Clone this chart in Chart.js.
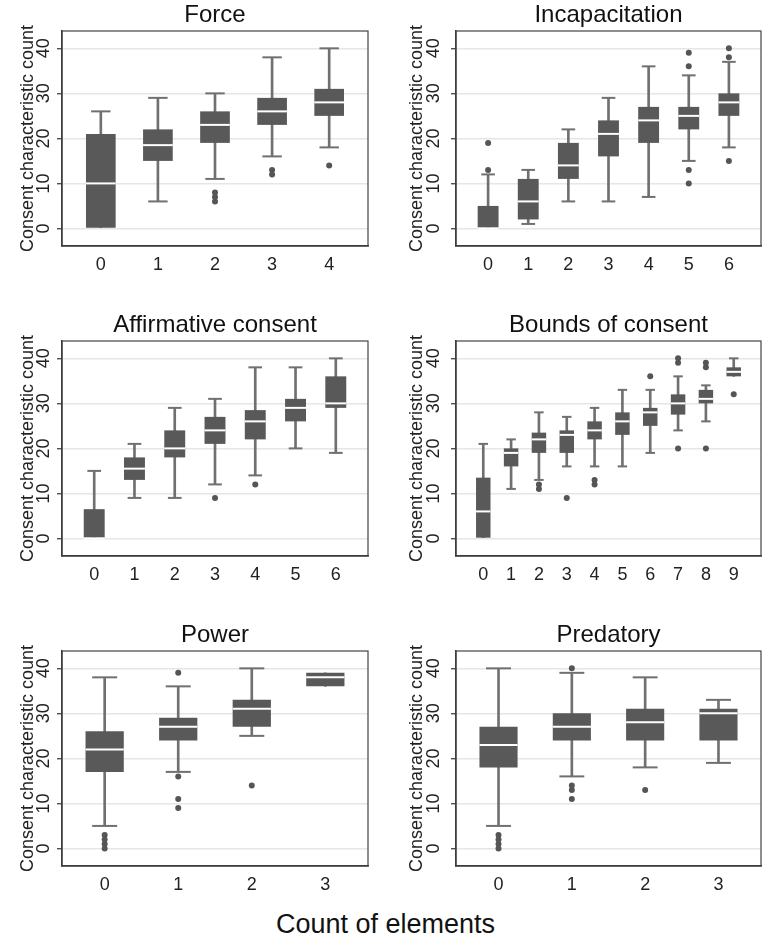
<!DOCTYPE html>
<html>
<head>
<meta charset="utf-8">
<script src="https://cdn.jsdelivr.net/npm/chart.js@4.4.1/dist/chart.umd.min.js"></script>
<style>
  body { margin: 0; background: #fff; width: 765px; height: 944px; position: relative; overflow: hidden; }
  canvas { position: absolute; }
  #xtitle { position: absolute; left: 3px; width: 765px; top: 908px; text-align: center;
            font: 27px 'Liberation Sans', Arial, sans-serif; color: #111; line-height: 32px; }
</style>
</head>
<body>
<canvas id="force" width="382" height="276" style="left:0;top:0"></canvas>
<canvas id="incap" width="382" height="276" style="left:383px;top:0"></canvas>
<canvas id="affirm" width="382" height="276" style="left:0;top:310px"></canvas>
<canvas id="bounds" width="382" height="276" style="left:383px;top:310px"></canvas>
<canvas id="power" width="382" height="276" style="left:0;top:620px"></canvas>
<canvas id="pred" width="382" height="276" style="left:383px;top:620px"></canvas>
<div id="xtitle">Count of elements</div>
<script>
const yTicks = [0, 10, 20, 30, 40];

// Force
const forceCats = [0, 1, 2, 3, 4];
const forceLow  = [0, 6, 11, 16, 18];
const forceQ1   = [0, 15, 19, 23, 25];
const forceMed  = [10, 18.5, 23, 26, 28];
const forceQ3   = [21, 22, 26, 29, 31];
const forceHigh = [26, 29, 30, 38, 40];
const forceOut  = [[], [], [8, 7, 6], [13, 12], [14]];

// Incapacitation
const incapCats = [0, 1, 2, 3, 4, 5, 6];
const incapLow  = [0, 1, 6, 6, 7, 15, 18];
const incapQ1   = [0, 2, 11, 16, 19, 22, 25];
const incapMed  = [0, 6, 14, 21, 24, 25, 28];
const incapQ3   = [5, 11, 19, 24, 27, 27, 30];
const incapHigh = [12, 13, 22, 29, 36, 34, 37];
const incapOut  = [[13, 19], [], [], [], [], [13, 10, 36, 39], [15, 38, 40]];

// Affirmative consent
const affCats = [0, 1, 2, 3, 4, 5, 6];
const affLow  = [0, 9, 9, 12, 14, 20, 19];
const affQ1   = [0, 13, 18, 21, 22, 26, 29];
const affMed  = [0, 15.5, 20, 24, 26, 29, 30];
const affQ3   = [6.5, 18, 24, 27, 28.5, 31, 36];
const affHigh = [15, 21, 29, 31, 38, 38, 40];
const affOut  = [[], [], [], [9], [12], [], []];

// Bounds of consent
const bndCats = [0, 1, 2, 3, 4, 5, 6, 7, 8, 9];
const bndLow  = [0, 11, 13, 16, 16, 16, 19, 24, 26, 36];
const bndQ1   = [0, 16, 19, 19, 22, 23, 25, 27.5, 30, 36];
const bndMed  = [6, 19, 22, 23, 24, 26, 28, 30, 31, 37];
const bndQ3   = [13.5, 20, 23.5, 24, 26, 28, 29, 32, 33, 38];
const bndHigh = [21, 22, 28, 27, 29, 33, 33, 36, 34, 40];
const bndOut  = [[], [], [12, 11], [9], [13, 12], [], [36], [20, 39, 40], [20, 38, 39], [32]];

// Power
const powCats = [0, 1, 2, 3];
const powLow  = [5, 17, 25, 36];
const powQ1   = [17, 24, 27, 36];
const powMed  = [22, 27, 31, 38];
const powQ3   = [26, 29, 33, 39];
const powHigh = [38, 36, 40, 39];
const powOut  = [[3, 2, 1, 0], [16, 11, 9, 39], [14], []];

// Predatory
const predCats = [0, 1, 2, 3];
const predLow  = [5, 16, 18, 19];
const predQ1   = [18, 24, 24, 24];
const predMed  = [23, 27, 28, 30];
const predQ3   = [27, 30, 31, 31];
const predHigh = [40, 39, 38, 33];
const predOut  = [[3, 2, 1, 0], [14, 13, 11, 40], [13], []];

Chart.defaults.font.family = "'Liberation Sans', Arial, sans-serif";
Chart.defaults.color = '#222';

const BOX = '#595959';
const WHISK = '#707070';

// column layouts (left / right)
const cols = [
  { yw: 62, padRight: 14, titlePad: 17, tickPad: 3 },
  { yw: 73, padRight: 3, titlePad: 23, tickPad: 7 }
];

function unitPx(chart) {
  const x = chart.scales.x;
  return Math.abs(x.getPixelForValue(1) - x.getPixelForValue(0));
}

// frame round the plot region
const frame = {
  id: 'frame',
  afterDatasetsDraw(chart) {
    const { ctx, chartArea: a } = chart;
    ctx.save();
    ctx.strokeStyle = '#444';
    ctx.lineWidth = 1.2;
    ctx.strokeRect(a.left, a.top, a.right - a.left, a.bottom - a.top);
    ctx.restore();
  }
};

function makePanel(id, title, cats, low, q1, med, q3, high, out, xMin, xMax, col) {
  const c = cols[col];
  const outliers = [];
  out.forEach((vals, i) => vals.forEach(v => outliers.push({ x: cats[i], y: v })));
  const caps = [];
  cats.forEach((x, i) => {
    if (low[i] < q1[i]) caps.push({ x: x, y: low[i] });
    if (high[i] > q3[i]) caps.push({ x: x, y: high[i] });
  });

  new Chart(document.getElementById(id), {
    type: 'bar',
    data: {
      datasets: [
        {
          type: 'scatter', order: 0,
          data: outliers,
          pointRadius: 3, pointBackgroundColor: '#555', pointBorderWidth: 0
        },
        {
          type: 'scatter', order: 1,
          data: cats.map((x, i) => ({ x: x, y: med[i] })),
          pointStyle: 'line', pointRadius: ctx => unitPx(ctx.chart) * 0.26,
          pointBorderColor: '#fff', pointBorderWidth: 2
        },
        {
          type: 'scatter', order: 1,
          data: caps,
          pointStyle: 'line', pointRadius: ctx => unitPx(ctx.chart) * 0.17,
          pointBorderColor: WHISK, pointBorderWidth: 2
        },
        {
          type: 'bar', order: 2, grouped: false,
          data: cats.map((x, i) => ({ x: x, y: [q1[i], q3[i]] })),
          backgroundColor: BOX, barPercentage: 0.52, categoryPercentage: 1
        },
        {
          type: 'bar', order: 3, grouped: false,
          data: cats.map((x, i) => ({ x: x, y: [low[i], high[i]] })),
          backgroundColor: WHISK, barThickness: 2
        }
      ]
    },
    options: {
      responsive: false,
      animation: false,
      events: [],
      layout: { padding: { left: 0, right: c.padRight, top: 0, bottom: 0 } },
      plugins: { legend: { display: false }, tooltip: { enabled: false } },
      scales: {
        x: {
          type: 'linear', min: xMin, max: xMax, offset: false,
          afterBuildTicks: s => { s.ticks = cats.map(v => ({ value: v })); },
          afterFit: s => { s.height = 30; },
          grid: { display: false, drawTicks: false },
          border: { color: '#333', width: 1.5 },
          ticks: { padding: 8, font: { size: 18 }, maxRotation: 0, autoSkip: false }
        },
        top: {
          type: 'linear', position: 'top', axis: 'x', min: xMin, max: xMax, offset: false,
          afterFit: s => { s.height = 31; },
          grid: { display: false, drawTicks: false },
          border: { display: false },
          ticks: { display: false },
          title: { display: true, text: title, color: '#111', font: { size: 24 }, padding: { top: 0.6, bottom: 0 } }
        },
        y: {
          min: -3.9, max: 43.85,
          afterBuildTicks: s => { s.ticks = yTicks.map(v => ({ value: v })); },
          afterFit: s => { s.width = c.yw; },
          grid: { color: '#e6e6e6', lineWidth: 1.5, tickLength: 5, tickColor: '#333', tickWidth: 1.2 },
          border: { color: '#333', width: 1.5 },
          ticks: { minRotation: 90, maxRotation: 90, crossAlign: 'center', padding: c.tickPad, font: { size: 18 } },
          title: { display: true, text: 'Consent characteristic count', font: { size: 18 }, padding: { top: c.titlePad, bottom: 0 } }
        }
      }
    },
    plugins: [frame]
  });
}

makePanel('force', 'Force', forceCats, forceLow, forceQ1, forceMed, forceQ3, forceHigh, forceOut, -0.68, 4.68, 0);
makePanel('incap', 'Incapacitation', incapCats, incapLow, incapQ1, incapMed, incapQ3, incapHigh, incapOut, -0.8, 6.8, 1);
makePanel('affirm', 'Affirmative consent', affCats, affLow, affQ1, affMed, affQ3, affHigh, affOut, -0.8, 6.8, 0);
makePanel('bounds', 'Bounds of consent', bndCats, bndLow, bndQ1, bndMed, bndQ3, bndHigh, bndOut, -0.98, 9.98, 1);
makePanel('power', 'Power', powCats, powLow, powQ1, powMed, powQ3, powHigh, powOut, -0.58, 3.58, 0);
makePanel('pred', 'Predatory', predCats, predLow, predQ1, predMed, predQ3, predHigh, predOut, -0.58, 3.58, 1);
</script>
</body>
</html>
